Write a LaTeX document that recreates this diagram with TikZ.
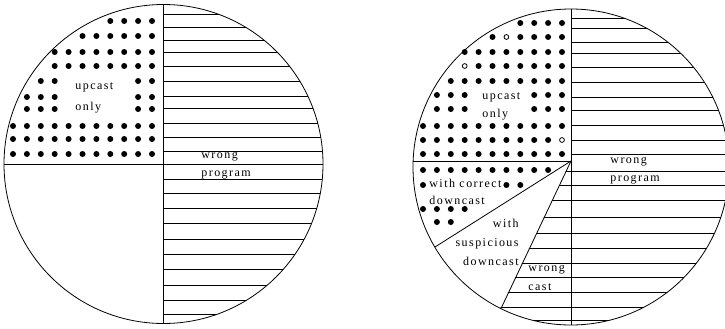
\documentclass[tikz,border=0pt]{standalone}
\usepackage{fontspec}
\newfontfamily\chartfont[LetterSpace=12]{Liberation Serif}
\begin{document}
\begin{tikzpicture}[x=1pt,y=-1pt,line width=0.8pt,
    lbl/.style={font=\chartfont\fontsize{12}{18}\selectfont,inner sep=0pt,align=left},
    dot/.style={fill=black},
    hollow/.style={draw=black,fill=white,line width=0.8pt}]
  \useasboundingbox (0,0) rectangle (725,329);
  \coordinate (lc) at (163.5,164);
  \coordinate (rc) at (571,167);
  \coordinate (rs) at (571,161);
  \coordinate (rd1) at (435,247);
  \coordinate (rd2) at (501,308.5);
  % left chart
  \begin{scope}
    \clip (lc) circle (159.5);
    \foreach \y in {14,27,40,52,66,81,96,108,123,137,151,179,193,208,223,239,254,269,285,300,314}
      \draw (163.5,\y) -- (330,\y);
  \end{scope}
  \foreach \y/\c in {21/{7,...,10},36/{5,...,10},52/{3,...,10},66/{3,...,10},81/{2,3,9,10},
      97/{1,2,3,9,10},109/{1,2,3,9,10},126/{0,...,10},139/{0,...,10},154/{0,...,10}}
    \foreach \i in \c
      \fill[dot] (13+13.9*\i,\y) circle (3);
  \draw (4,164) -- (323,164);
  \draw (163.5,4.5) -- (163.5,323.5);
  \draw (lc) circle (159.5);
  \node[lbl,anchor=west] (lupcast) at (75,98) {upcast\\[3pt]only};
  \node[lbl,anchor=west] (lwrong) at (201,166) {wrong\\program};
  % right chart
  \begin{scope}
    \clip (rc) circle (158);
    \foreach \y in {18,28,42,53,67,82,97,110,125,140,154}
      \draw (571,\y) -- (740,\y);
    \clip (rs) -- (485,340) -- (740,340) -- (740,161) -- cycle;
    \foreach \y in {171,185,200,217,233,248,263,277,292,307,320}
      \draw (400,\y) -- (740,\y);
  \end{scope}
  \foreach \y/\c in {23/{7,...,10},37/{5,7,8,9,10},52/{3,...,10},66/{4,...,10},81/{2,...,10},
      95/{1,2,3,8,9,10},109/{1,2,3,8,9,10},126/{0,...,10},140/{0,...,9},154/{0,...,10},
      170/{0,...,9},185/{0,6,7},209/{0,...,3},222/{1,2}}
    \foreach \i in \c
      \fill[dot] (423+13.9*\i,\y) circle (3);
  \foreach \i/\y in {6/37,3/66,10/140}
    \draw[hollow] (423+13.9*\i,\y) circle (2.4);
  \draw (413.1,161) -- (rs);
  \draw (571,9) -- (571,325);
  \draw (rs) -- (rd1);
  \draw (rs) -- (rd2);
  \draw (rc) circle (158);
  \node[lbl,anchor=west] (rupcast) at (482,106) {upcast\\only};
  \node[lbl,anchor=west] (rwrong) at (610,171) {wrong\\program};
  \node[lbl,anchor=west] (rcorrect) at (429,191.5) {with correct\\[-1pt]downcast};
  \node[lbl,anchor=east,align=right] (rsusp) at (519,242) {with\\[1pt]suspicious\\[1pt]downcast};
  \node[lbl,anchor=west] (rcast) at (528,277.5) {wrong\\[1pt]cast};
\end{tikzpicture}
\end{document}
